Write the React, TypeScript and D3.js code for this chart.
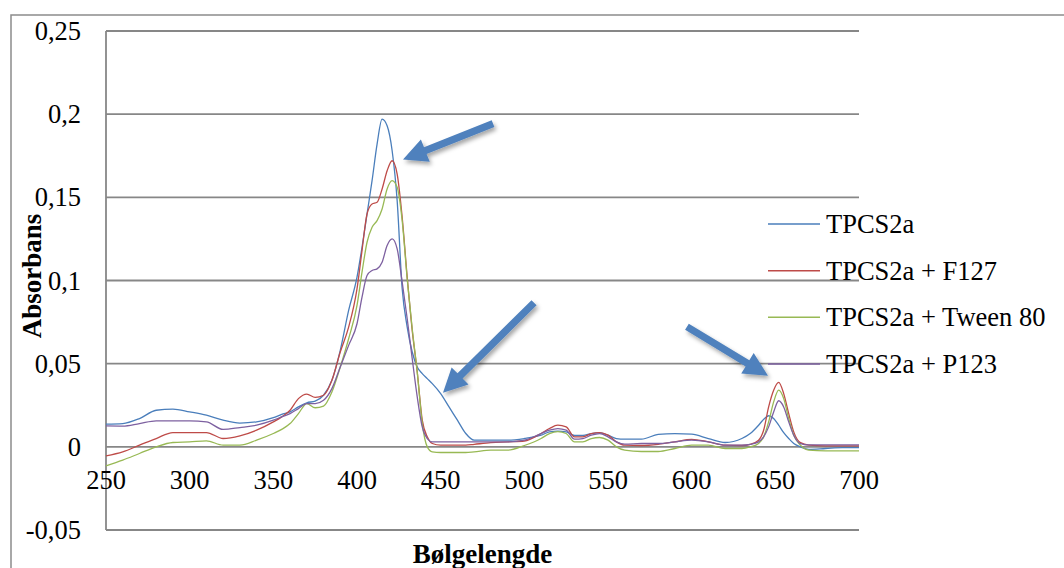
import React from "react";
import * as d3 from "d3";

const wavelengths = [250,260,270,280,290,300,310,320,330,340,350,355,360,365,370,375,380,385,390,395,400,403,406,409,412,415,418,421,424,427,430,433,436,439,442,445,450,455,460,465,470,480,490,500,510,515,520,525,530,535,540,545,550,555,560,570,580,590,600,610,620,630,635,640,643,646,649,652,655,658,661,665,670,680,690,700];

const tpcs2a = [0.0137,0.014,0.017,0.022,0.0227,0.021,0.019,0.016,0.0143,0.015,0.0175,0.0195,0.021,0.024,0.0265,0.0275,0.031,0.04,0.058,0.082,0.102,0.12,0.14,0.16,0.182,0.197,0.193,0.178,0.148,0.095,0.072,0.057,0.048,0.044,0.041,0.038,0.032,0.024,0.016,0.008,0.004,0.004,0.004,0.005,0.007,0.009,0.0095,0.009,0.0068,0.0068,0.008,0.0086,0.007,0.005,0.0046,0.0046,0.0075,0.008,0.0076,0.005,0.0026,0.005,0.008,0.013,0.0165,0.0187,0.017,0.013,0.0085,0.005,0.002,0.0,-0.0015,-0.001,-0.0005,-0.0005];

const tpcs2aF127 = [-0.0054,-0.003,0.001,0.005,0.0086,0.0086,0.0086,0.005,0.0066,0.01,0.015,0.018,0.022,0.029,0.0317,0.0297,0.031,0.04,0.057,0.072,0.095,0.118,0.14,0.146,0.147,0.155,0.166,0.172,0.164,0.138,0.102,0.07,0.045,0.016,0.006,0.002,0.001,0.001,0.001,0.001,0.0015,0.0025,0.003,0.0035,0.008,0.011,0.013,0.012,0.006,0.006,0.008,0.0086,0.007,0.003,0.001,0.0008,0.0015,0.003,0.0045,0.003,0.001,0.0008,0.0015,0.004,0.01,0.024,0.034,0.0387,0.032,0.02,0.009,0.0025,0.001,0.0006,0.0006,0.0006];

const tpcs2aTween80 = [-0.0114,-0.008,-0.004,0.0,0.0026,0.003,0.0036,0.001,0.001,0.004,0.008,0.0105,0.014,0.02,0.026,0.0235,0.0245,0.033,0.048,0.065,0.085,0.105,0.123,0.132,0.136,0.143,0.155,0.16,0.156,0.136,0.101,0.071,0.045,0.014,0.0,-0.003,-0.0034,-0.0034,-0.0034,-0.0034,-0.003,-0.002,-0.002,0.0008,0.005,0.008,0.0092,0.008,0.003,0.003,0.005,0.0056,0.004,0.0,-0.002,-0.0028,-0.0028,-0.001,0.001,0.001,-0.001,-0.001,0.0,0.002,0.006,0.015,0.027,0.0341,0.029,0.017,0.007,0.001,-0.002,-0.0024,-0.0024,-0.0024];

const tpcs2aP123 = [0.0126,0.0125,0.014,0.0156,0.0156,0.0156,0.015,0.0105,0.0116,0.013,0.016,0.018,0.02,0.023,0.026,0.026,0.028,0.035,0.048,0.061,0.074,0.09,0.103,0.106,0.107,0.111,0.121,0.125,0.119,0.099,0.077,0.053,0.03,0.012,0.005,0.003,0.003,0.003,0.003,0.003,0.003,0.003,0.003,0.004,0.008,0.01,0.011,0.01,0.0046,0.005,0.007,0.008,0.006,0.003,0.0016,0.002,0.002,0.003,0.004,0.003,0.001,0.001,0.0015,0.003,0.006,0.012,0.021,0.0277,0.024,0.015,0.007,0.002,0.0012,0.0012,0.0012,0.0012];

const seriesNames = ["TPCS2a", "TPCS2a + F127", "TPCS2a + Tween 80", "TPCS2a + P123"];
const seriesColors = ["#4a7ebb", "#be4b48", "#98b954", "#7d60a0"];
const seriesValues = [tpcs2a, tpcs2aF127, tpcs2aTween80, tpcs2aP123];

const xTicks = [250, 300, 350, 400, 450, 500, 550, 600, 650, 700];
const yTicks = [-0.05, 0, 0.05, 0.1, 0.15, 0.2, 0.25];

// annotation arrows in data coordinates: [tailX, tailY, tipX, tipY]
const arrows = [
  [481.3, 0.1943, 427.5, 0.1727],
  [505.8, 0.0866, 451.4, 0.0325],
  [597.2, 0.0722, 645.6, 0.0427],
];

const fmt = (v: number) => (v === 0 ? "0" : String(v).replace(".", ","));

export default function App() {
  const W = 1064, H = 568;
  const x = d3.scaleLinear().domain([250, 700]).range([106, 859]);
  const y = d3.scaleLinear().domain([-0.05, 0.25]).range([530, 31]);
  const line = d3
    .line<number>()
    .x((_, i) => x(wavelengths[i]))
    .y((d) => y(d))
    .curve(d3.curveMonotoneX);

  const font = "'Liberation Serif', 'Times New Roman', serif";
  const gridColor = "#878787";

  const arrowPath = (a: number[]) => {
    const x0 = x(a[0]), y0 = y(a[1]), x1 = x(a[2]), y1 = y(a[3]);
    const dx = x1 - x0, dy = y1 - y0;
    const L = Math.hypot(dx, dy);
    const ux = dx / L, uy = dy / L;
    const px = -uy, py = ux;
    const sw = 3.6, hl = 24, hw = 12;
    const bx = x1 - ux * hl, by = y1 - uy * hl;
    const pts = [
      [x0 + px * sw, y0 + py * sw],
      [bx + px * sw, by + py * sw],
      [bx + px * hw, by + py * hw],
      [x1, y1],
      [bx - px * hw, by - py * hw],
      [bx - px * sw, by - py * sw],
      [x0 - px * sw, y0 - py * sw],
    ];
    return "M" + pts.map((p) => p[0].toFixed(1) + "," + p[1].toFixed(1)).join("L") + "Z";
  };

  const legendY = [224, 270.7, 317.3, 364];

  return (
    <svg
      width={W}
      height={H}
      style={{ position: "absolute", left: 0, top: 0, background: "#fff" }}
    >
      <defs>
        <filter id="shadow" x="-20%" y="-20%" width="160%" height="160%">
          <feDropShadow dx="2" dy="3" stdDeviation="2.2" floodColor="#000" floodOpacity="0.35" />
        </filter>
      </defs>
      <rect x={0} y={0} width={W} height={H} fill="#fff" />
      <rect x={11} y={15} width={1200} height={700} fill="none" stroke="#8c8c8c" strokeWidth={1.5} />

      {/* gridlines */}
      {yTicks.map((t) => (
        <line key={t} x1={x(250)} x2={x(700)} y1={y(t)} y2={y(t)} stroke={gridColor} strokeWidth={1.8} />
      ))}
      <line x1={x(250)} x2={x(250)} y1={y(0.25)} y2={y(-0.05)} stroke={gridColor} strokeWidth={1.8} />

      {/* y tick labels */}
      {yTicks.map((t) => (
        <text key={t} x={81} y={y(t)} dy="0.34em" textAnchor="end" fontFamily={font} fontSize={26.5} fill="#000">
          {fmt(t)}
        </text>
      ))}
      {/* x tick labels */}
      {xTicks.map((t) => (
        <text key={t} x={x(t)} y={489} textAnchor="middle" fontFamily={font} fontSize={26.5} fill="#000">
          {t}
        </text>
      ))}

      {/* series */}
      {seriesValues.map((vals, i) => (
        <path key={i} d={line(vals) || ""} fill="none" stroke={seriesColors[i]} strokeWidth={1.3} />
      ))}

      {/* legend */}
      {seriesNames.map((n, i) => (
        <g key={n}>
          <line x1={768} x2={820} y1={legendY[i]} y2={legendY[i]} stroke={seriesColors[i]} strokeWidth={1.5} />
          <text x={826} y={legendY[i]} dy="0.34em" fontFamily={font} fontSize={26.5} fill="#000">
            {n}
          </text>
        </g>
      ))}

      {/* axis titles */}
      <text x={482.5} y={563} textAnchor="middle" fontFamily={font} fontSize={27} fontWeight="bold" fill="#000">
        Bølgelengde
      </text>
      <text
        transform={`translate(41,276) rotate(-90)`}
        textAnchor="middle"
        fontFamily={font}
        fontSize={27}
        fontWeight="bold"
        fill="#000"
      >
        Absorbans
      </text>

      {/* arrows */}
      {arrows.map((a, i) => (
        <path key={i} d={arrowPath(a)} fill="#4f81bd" filter="url(#shadow)" />
      ))}
    </svg>
  );
}
